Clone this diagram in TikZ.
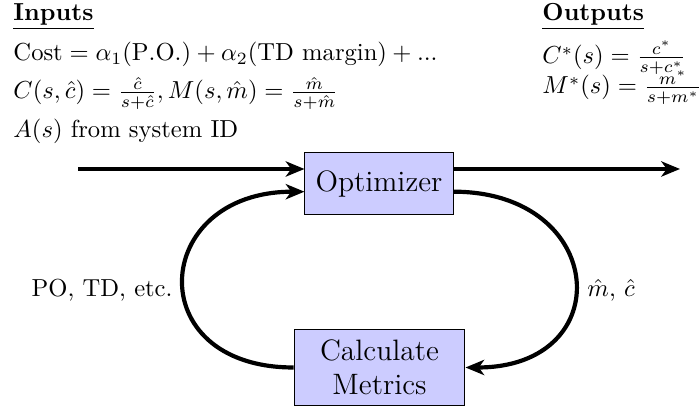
\documentclass[tikz,border=0pt]{standalone}
\usetikzlibrary{calc,arrows.meta}
\begin{document}
\begin{tikzpicture}[x=0.4065pt, y=-0.4065pt,
  blk/.style={draw=black, fill=blue!20, font=\large, align=center, inner sep=0pt},
  flow/.style={-{Stealth[length=7.6pt, width=6.2pt, inset=2.2pt]}, line width=1.7pt},
  txt/.style={inner sep=0pt, anchor=base west}]
\useasboundingbox (0,0) rectangle (699,409);

% Inputs column
\node[txt] (inh) at (13,20.7) {\underline{\textbf{Inputs}}};
\node[txt] (cost) at (13,61) {$\mathrm{Cost} = \alpha_1(\mathrm{P.O.}) + \alpha_2(\mbox{TD margin}) + ...$};
\node[txt] (cm) at (13,99) {$C(s,\hat{c})=\frac{\hat{c}}{s+\hat{c}}, M(s,\hat{m})=\frac{\hat{m}}{s+\hat{m}}$};
\node[txt] (aid) at (13,138) {$A(s)$ from system ID};

% Outputs column
\node[txt] (outh) at (542,20.7) {\underline{\textbf{Outputs}}};
\node[txt] (cstar) at (542,64) {$C^*(s)=\frac{c^*}{s+c^*}$};
\node[txt] (mstar) at (542,94) {$M^*(s)=\frac{m^*}{s+m^*}$};

% Blocks
\node[blk, minimum width=60.2pt, minimum height=25.2pt] (opt) at (379,184) {Optimizer};
\node[blk, minimum width=69.5pt, minimum height=30.5pt] (met) at (379.5,367.5) {Calculate\\Metrics};

% Through path
\coordinate (src) at (78,169);
\coordinate (dst) at (680,169);
\draw[flow] (src) -- (src -| opt.west);
\draw[flow] (src -| opt.east) -- (dst);

% Feedback loop
\draw[flow] ($(opt.east)+(0,7.7)$) .. controls +(154,0) and +(154,0) .. (met.east);
\draw[flow] (met.west) .. controls +(-154,0) and +(-154,0) .. ($(opt.west)+(0,7.7)$);

% Loop labels
\node[anchor=east, inner sep=0pt] (lbl1) at (173,290) {PO, TD, etc.};
\node[anchor=west, inner sep=0pt] (lbl2) at (587,290) {$\hat{m}$, $\hat{c}$};
\end{tikzpicture}
\end{document}
